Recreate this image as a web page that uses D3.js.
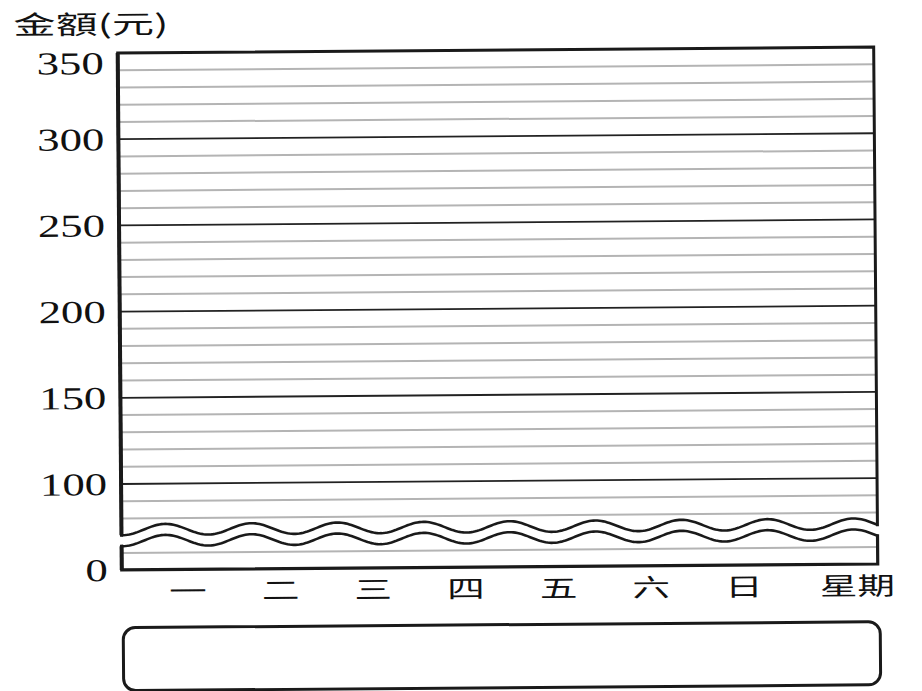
<!DOCTYPE html>
<html>
<head>
<meta charset="utf-8">
<script src="https://cdn.jsdelivr.net/npm/d3@7"></script>
<style>
  body { margin: 0; background: #fff; }
  svg { display: block; }
</style>
</head>
<body>
<svg class="chart"></svg>
<script>
// DATA /////////////////////////////////////////
const days = ["一", "二", "三", "四", "五", "六", "日"];
const xTitle = "星期";
const yTitle = "金額(元)";
const majorTicks = [0, 100, 150, 200, 250, 300, 350];
const minorTicks = [10, 80, 90, 110, 120, 130, 140, 160, 170, 180, 190,
  210, 220, 230, 240, 260, 270, 280, 290, 310, 320, 330, 340];

// DEFINITIONS //////////////////////////////////
const W = 922, H = 691;
const left = 120, right = 876;

const svg = d3.select(".chart").attr("width", W).attr("height", H);
svg.append("rect").attr("width", W).attr("height", H).attr("fill", "#fff");

// scanned page is a little tilted
const g = svg.append("g").attr("transform", "rotate(-0.45, 461, 345)");

// broken axis: 0-10 at the bottom, 60-350 above the break
const y = d3.scaleLinear()
  .domain([0, 10, 60, 350])
  .range([567.3, 550.3, 550.3, 50.3]);

const x = d3.scalePoint().domain(days).range([186, 742]);

// GRID ////////////////////////////////////////
g.selectAll(".minor")
  .data(minorTicks)
  .join("line")
  .attr("class", "minor")
  .attr("x1", left).attr("x2", right)
  .attr("y1", d => y(d)).attr("y2", d => y(d))
  .attr("stroke", "#b4b4b4")
  .attr("stroke-width", 2);

g.selectAll(".major")
  .data(majorTicks.filter(d => d > 0 && d < 350))
  .join("line")
  .attr("class", "major")
  .attr("x1", left).attr("x2", right)
  .attr("y1", d => y(d)).attr("y2", d => y(d))
  .attr("stroke", "#222")
  .attr("stroke-width", 1.8);

// BREAK ///////////////////////////////////////
const mid = (y(80) + y(10)) / 2;
const upperY = mid - 6, lowerY = mid + 5;
const period = 86, amp = 5.5, phase = 250;
const waveAt = (cy) => d3.range(left, right + 1, 2).map(px =>
  [px, cy + amp * Math.cos((px - phase) / period * 2 * Math.PI + Math.PI)]);
const upperWave = waveAt(upperY);
const lowerWave = waveAt(lowerY);

g.append("path")
  .attr("d", d3.area().x(d => d[0]).y0(d => d[1]).y1((d, i) => lowerWave[i][1])(upperWave))
  .attr("fill", "#fff");

const line = d3.line();
[upperWave, lowerWave].forEach(w => {
  g.append("path").attr("d", line(w))
    .attr("fill", "none").attr("stroke", "#1a1a1a").attr("stroke-width", 2.6);
});

// FRAME ///////////////////////////////////////
const frame = (pts, sw) => g.append("path").attr("d", line(pts))
  .attr("fill", "none").attr("stroke", "#1a1a1a")
  .attr("stroke-width", sw).attr("stroke-linejoin", "miter").attr("stroke-linecap", "square");

frame([[left, upperWave[0][1]], [left, y(350)], [right, y(350)],
  [right, upperWave[upperWave.length - 1][1]]], 3);
frame([[left, lowerWave[0][1]], [left, y(0)], [right, y(0)],
  [right, lowerWave[lowerWave.length - 1][1]]], 3.2);
// thicker left axis
g.append("line").attr("x1", left).attr("x2", left)
  .attr("y1", y(350)).attr("y2", upperWave[0][1])
  .attr("stroke", "#1a1a1a").attr("stroke-width", 4);
g.append("line").attr("x1", left).attr("x2", left)
  .attr("y1", lowerWave[0][1]).attr("y2", y(0))
  .attr("stroke", "#1a1a1a").attr("stroke-width", 4);

// Y LABELS ////////////////////////////////////
g.selectAll(".ylab")
  .data(majorTicks)
  .join("g")
  .attr("class", "ylab")
  .attr("transform", d => `translate(106, ${y(d) + (d === 350 ? 21 : 11)})`)
  .append("text")
  .attr("transform", "scale(1.4,1)")
  .attr("text-anchor", "end")
  .attr("font-family", "Liberation Serif, Times New Roman, serif")
  .attr("font-size", 32)
  .attr("fill", "#111")
  .text(d => d);

g.append("g")
  .attr("transform", "translate(16, 31)")
  .append("text")
  .attr("transform", "scale(1.62,1)")
  .attr("font-family", "Noto Sans CJK TC, Noto Sans CJK SC, sans-serif")
  .attr("font-size", 26)
  .attr("fill", "#111")
  .text(yTitle);

// X LABELS ////////////////////////////////////
g.selectAll(".xlab")
  .data(days)
  .join("g")
  .attr("class", "xlab")
  .attr("transform", d => `translate(${x(d)}, 598)`)
  .append("text")
  .attr("transform", "scale(1.5,1)")
  .attr("text-anchor", "middle")
  .attr("font-family", "Noto Sans CJK TC, Noto Sans CJK SC, sans-serif")
  .attr("font-size", 25)
  .attr("fill", "#111")
  .text(d => d);

g.append("g")
  .attr("transform", `translate(${x("日") + 76}, 598)`)
  .append("text")
  .attr("transform", "scale(1.5,1)")
  .attr("font-family", "Noto Sans CJK TC, Noto Sans CJK SC, sans-serif")
  .attr("font-size", 25)
  .attr("fill", "#111")
  .text(xTitle);

// ANSWER BOX //////////////////////////////////
g.append("rect")
  .attr("x", 121).attr("y", 625)
  .attr("width", 757).attr("height", 63)
  .attr("rx", 12)
  .attr("fill", "none")
  .attr("stroke", "#1a1a1a")
  .attr("stroke-width", 3);
</script>
</body>
</html>
